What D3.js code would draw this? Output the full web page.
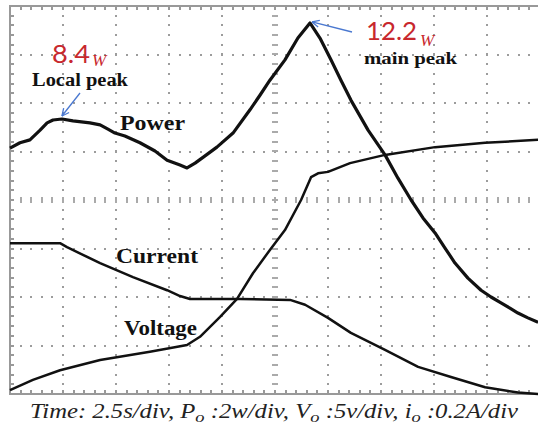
<!DOCTYPE html>
<html><head><meta charset="utf-8">
<script src="https://cdn.jsdelivr.net/npm/d3@7"></script>
<style>body{margin:0;background:#fff}svg{display:block}</style>
</head><body><svg id="c" width="538" height="429"></svg>
<script>
// time axis: seconds (2.5 s/div, 10 div); vertical: screen divisions (8 div)
const timeTicks = d3.range(0, 25.01, 2.5);
const divTicks = d3.range(0, 8.01, 1);

const powerTime = [0,0.47,0.94,1.42,1.75,2.03,2.45,2.97,3.77,4.25,4.62,4.95,5.42,6.13,6.84,7.41,8.02,8.35,8.73,9.2,9.76,10.52,11.32,11.79,12.26,12.97,13.58,14.15,14.62,15.14,15.61,16.08,16.89,17.69,18.3,18.92,19.48,20.05,20.52,20.99,21.6,22.22,22.69,23.16,23.58,23.96,24.43,24.91];
const powerDiv  = [5.07,5.18,5.24,5.44,5.59,5.65,5.67,5.63,5.59,5.55,5.46,5.38,5.32,5.18,5.01,4.82,4.72,4.66,4.76,4.91,5.09,5.38,5.86,6.16,6.47,6.89,7.34,7.65,7.34,6.89,6.47,6.06,5.44,4.93,4.45,4.0,3.63,3.32,3.01,2.7,2.39,2.14,2.0,1.88,1.77,1.67,1.57,1.48];

const currentTime = [0,2.36,2.69,3.44,4.25,5.8,7.41,8.02,8.49,10.85,13.21,13.92,15.0,16.08,17.69,19.25,20.8,22.41,23.96,24.91];
const currentDiv  = [3.11,3.11,3.03,2.87,2.7,2.41,2.14,2.02,1.96,1.96,1.94,1.84,1.57,1.26,0.91,0.56,0.35,0.14,0.03,0.0];

const voltageTime = [0,1.08,2.36,4.25,6.6,8.35,8.96,9.91,10.71,11.46,12.26,12.97,13.73,14.2,14.53,15.0,16.04,17.69,20.05,22.41,24.91];
const voltageDiv  = [0.08,0.29,0.49,0.7,0.87,1.01,1.18,1.59,1.96,2.49,2.97,3.38,4.0,4.47,4.55,4.58,4.76,4.93,5.09,5.18,5.24];

const traceLabels = ["Power","Current","Voltage"];
const peakValues = ["8.4","12.2"];
const peakNames = ["Local peak","main peak"];

const svg = d3.select("#c");
const x = d3.scaleLinear().domain([0,25]).range([10,540]);
const y = d3.scaleLinear().domain([0,8]).range([394,6]);

const grid = svg.append("g").attr("shape-rendering","crispEdges");
const dotC = "#9c9c9c";
// dotted grid lines
timeTicks.slice(1,-1).forEach(t=>{
  d3.range(0.2,7.99,0.2).forEach(v=>{
    grid.append("rect").attr("x",Math.round(x(t))-1).attr("y",Math.round(y(v))-1).attr("width",2).attr("height",2).attr("fill",dotC);
  });
});
divTicks.slice(1,-1).forEach(v=>{
  d3.range(0.5,24.99,0.5).forEach(t=>{
    grid.append("rect").attr("x",Math.round(x(t))-1).attr("y",Math.round(y(v))-1).attr("width",2).attr("height",2).attr("fill",dotC);
  });
});
// centre line minor ticks
d3.range(0.2,7.99,0.2).forEach(v=>{
  grid.append("rect").attr("x",Math.round(x(12.5))-3).attr("y",Math.round(y(v))-1).attr("width",6).attr("height",2).attr("fill","#aaa");
});
d3.range(0.5,24.99,0.5).forEach(t=>{
  grid.append("rect").attr("x",Math.round(x(t))-1).attr("y",Math.round(y(4))-3).attr("width",2).attr("height",6).attr("fill","#aaa");
});
// border ticks
d3.range(0.5,24.99,0.5).forEach(t=>{
  grid.append("rect").attr("x",Math.round(x(t))-1).attr("y",Math.round(y(8))).attr("width",2).attr("height",4).attr("fill","#999");
  grid.append("rect").attr("x",Math.round(x(t))-1).attr("y",Math.round(y(0))-4).attr("width",2).attr("height",4).attr("fill","#999");
});
d3.range(0.2,7.99,0.2).forEach(v=>{
  grid.append("rect").attr("x",Math.round(x(0))).attr("y",Math.round(y(v))-1).attr("width",4).attr("height",2).attr("fill","#999");
});
grid.append("rect").attr("x",x(0)).attr("y",y(8)).attr("width",x(25)-x(0)).attr("height",y(0)-y(8))
  .attr("fill","none").attr("stroke","#999").attr("stroke-width",2);

// traces
const line = d3.line().x(d=>x(d[0])).y(d=>y(d[1]));
const series = [
  [powerTime, powerDiv, 3.2],
  [currentTime, currentDiv, 2.5],
  [voltageTime, voltageDiv, 2.5]
];
series.forEach(([ts,vs,w])=>{
  svg.append("path").datum(ts.map((t,i)=>[t,vs[i]])).attr("d",line)
    .attr("fill","none").attr("stroke","#111").attr("stroke-width",w).attr("stroke-linejoin","round");
});

// labels
const serif = "'Liberation Serif','Times New Roman',serif";
function lab(txt,px,py,fs,len){
  svg.append("text").attr("x",px).attr("y",py).text(txt)
    .attr("font-family",serif).attr("font-weight","bold").attr("font-size",fs).attr("fill","#111")
    .attr("textLength",len).attr("lengthAdjust","spacingAndGlyphs");
}
lab(traceLabels[0],120,130,20,65);
lab(traceLabels[1],116,263,20,82);
lab(traceLabels[2],124,335,20,73);
lab(peakNames[0],32,86,18,96);
lab(peakNames[1],364,64,17,93);

const red = "#c8282d";
function peakVal(txt,px,py,len,wx,wy){
  svg.append("text").attr("x",px).attr("y",py).text(txt)
    .attr("font-family","Lato,'Open Sans',sans-serif").attr("font-size",25).attr("fill",red)
    .attr("textLength",len).attr("lengthAdjust","spacingAndGlyphs");
  svg.append("text").attr("x",wx).attr("y",wy).text("W")
    .attr("font-family",serif).attr("font-style","italic").attr("font-size",17).attr("fill",red);
}
peakVal(peakValues[0],52,63,38,92,66);
peakVal(peakValues[1],366,40,51,420,46);

// arrows
const blue = "#4a78d0";
function arrow(x1,y1,x2,y2){
  svg.append("line").attr("x1",x1).attr("y1",y1).attr("x2",x2).attr("y2",y2).attr("stroke",blue).attr("stroke-width",1.3);
  const a = Math.atan2(y2-y1,x2-x1), L=8;
  [0.45,-0.45].forEach(o=>{
    svg.append("line").attr("x1",x2).attr("y1",y2)
      .attr("x2",x2-L*Math.cos(a+o)).attr("y2",y2-L*Math.sin(a+o))
      .attr("stroke",blue).attr("stroke-width",1.3);
  });
}
const iLocal = 6, iMain = 27;
arrow(80,93,x(powerTime[iLocal]),y(powerDiv[iLocal])-3);
arrow(352,32,x(powerTime[iMain])+2,y(powerDiv[iMain])-1);

// caption
const cap = svg.append("text").attr("x",30).attr("y",418).attr("font-family",serif)
  .attr("font-style","italic").attr("font-size",20).attr("fill","#222")
  .attr("textLength",488).attr("lengthAdjust","spacingAndGlyphs");
const parts = [["Time: 2.5s/div, P",0],["o",1],[" :2w/div, V",0],["o",1],[" :5v/div, i",0],["o",1],[" :0.2A/div",0]];
parts.forEach(([t,s],i)=>{
  const ts = cap.append("tspan").text(t);
  if(s){ ts.attr("dy",4).attr("font-size",15); }
  else if(i>0){ ts.attr("dy",-4); }
});
</script></body></html>
